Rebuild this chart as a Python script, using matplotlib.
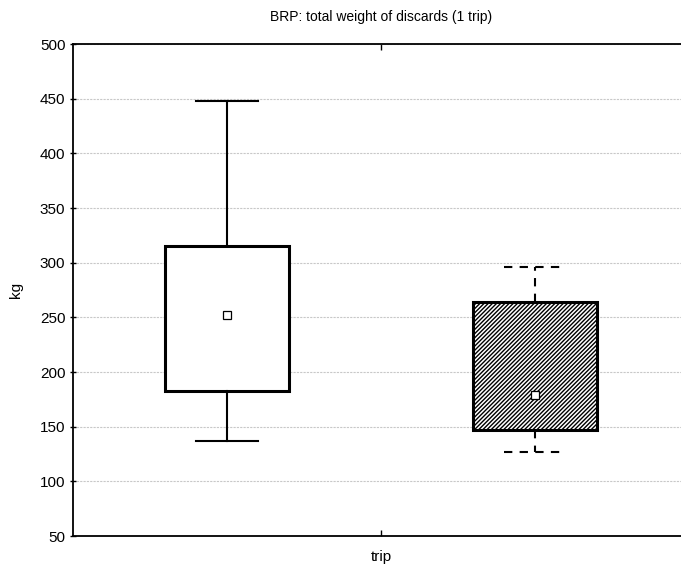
import matplotlib
matplotlib.use("Agg")
import matplotlib.pyplot as plt

plt.rcParams['font.family'] = ['Liberation Sans', 'DejaVu Sans']
plt.rcParams['hatch.linewidth'] = 1.0
plt.rcParams['hatch.color'] = '#3a3a3a'

# Summary statistics for the two groups (kg)
positions = [0.25, 0.75]
means = [252, 179]
q1 = [183, 147]
q3 = [315, 264]
whisker_low = [137, 127]
whisker_high = [448, 296]

title = "BRP: total weight of discards (1 trip)"
xlabel = "trip"
ylabel = "kg"
yticks = [50, 100, 150, 200, 250, 300, 350, 400, 450, 500]

fig = plt.figure(figsize=(6.81, 5.69), dpi=100)
ax = fig.add_axes([73 / 681, 1 - 536 / 569, 616 / 681, 492 / 569])

stats = []
for i in range(2):
    stats.append(dict(med=means[i], q1=q1[i], q3=q3[i],
                      whislo=whisker_low[i], whishi=whisker_high[i],
                      mean=means[i], fliers=[]))

# first group: plain box, solid whiskers
ax.bxp([stats[0]], positions=[positions[0]], widths=0.2, patch_artist=True,
       showmeans=False, showfliers=False, manage_ticks=False,
       boxprops=dict(facecolor='white', edgecolor='black', linewidth=2.2),
       medianprops=dict(linewidth=0),
       whiskerprops=dict(color='black', linewidth=1.5),
       capprops=dict(color='black', linewidth=1.5), capwidths=0.1)

# second group: hatched box, dashed whiskers
ax.bxp([stats[1]], positions=[positions[1]], widths=0.2, patch_artist=True,
       showmeans=False, showfliers=False, manage_ticks=False,
       boxprops=dict(facecolor='white', edgecolor='black', linewidth=2.2, hatch='////////'),
       medianprops=dict(linewidth=0),
       whiskerprops=dict(color='black', linewidth=1.5, linestyle=(0, (4, 3.5))),
       capprops=dict(color='black', linewidth=1.5, linestyle=(0, (4, 3.5))), capwidths=0.1)

# mean markers
ax.plot(positions, means, linestyle='none', marker='s', markersize=5.5,
        markerfacecolor='white', markeredgecolor='black', markeredgewidth=0.9, zorder=5)

ax.set_xlim(0, 1)
ax.set_ylim(50, 500)
ax.set_yticks(yticks)
ax.set_xticks([0.5])
ax.set_xticklabels([xlabel])
ax.yaxis.grid(True, color='#c8c8c8', linestyle=(0, (2, 1)), linewidth=0.8)
ax.set_axisbelow(True)

ax.tick_params(axis='y', direction='inout', length=5, width=1, labelsize=11, pad=3)
ax.tick_params(axis='x', direction='in', length=4, width=1, labelsize=11, top=True, pad=10)
for s in ax.spines.values():
    s.set_linewidth(1.3)

ax.set_ylabel(ylabel, fontsize=11, labelpad=12)
fig.text(381 / 681, 1 - 17 / 569, title, ha='center', va='center', fontsize=10)

fig.savefig("out.png", dpi=100)
